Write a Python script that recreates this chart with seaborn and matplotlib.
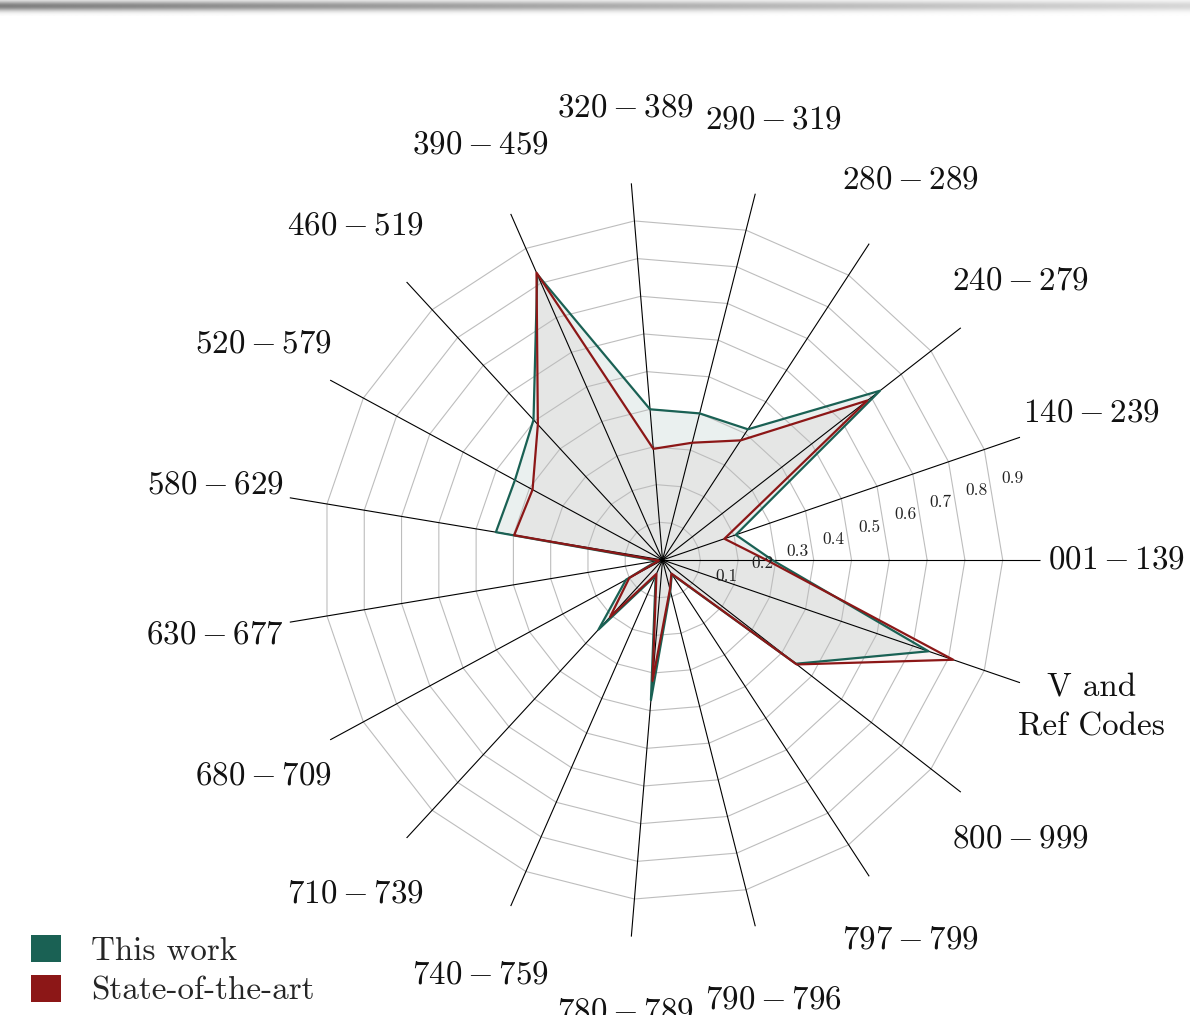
import numpy as np
import pandas as pd
import seaborn as sns
import matplotlib.pyplot as plt
from matplotlib.patches import Patch

# categories, counter-clockwise from the right
categories = ['$001 - 139$', '$140 - 239$', '$240 - 279$', '$280 - 289$',
              '$290 - 319$', '$320 - 389$', '$390 - 459$', '$460 - 519$',
              '$520 - 579$', '$580 - 629$', '$630 - 677$', '$680 - 709$',
              '$710 - 739$', '$740 - 759$', '$780 - 789$', '$790 - 796$',
              '$797 - 799$', '$800 - 999$', 'V and\nRef Codes']
this_work = [0.29, 0.205, 0.729, 0.413, 0.40, 0.40, 0.825, 0.504, 0.444, 0.447,
             0.015, 0.11, 0.25, 0.045, 0.372, 0.084, 0.045, 0.447, 0.744]
state_of_the_art = [0.275, 0.173, 0.687, 0.378, 0.32, 0.295, 0.83, 0.487, 0.391, 0.398,
                    0.01, 0.10, 0.205, 0.04, 0.321, 0.08, 0.043, 0.45, 0.813]
ring_values = [0.1, 0.2, 0.3, 0.4, 0.5, 0.6, 0.7, 0.8, 0.9]

TEAL = '#1a6154'
RED = '#8c1717'

sns.set_theme(style='white')
plt.rcParams['font.family'] = 'cmr10'
plt.rcParams['mathtext.fontset'] = 'cm'
plt.rcParams['axes.formatter.use_mathtext'] = True

n = len(categories)
angles = np.linspace(0, 2 * np.pi, n, endpoint=False)
loop = np.append(angles, 2 * np.pi)
tw_loop = this_work + this_work[:1]
sota_loop = state_of_the_art + state_of_the_art[:1]

df = pd.DataFrame({
    'angle': np.concatenate([loop, loop]),
    'value': tw_loop + sota_loop,
    'series': ['This work'] * (n + 1) + ['State-of-the-art'] * (n + 1),
})

fig = plt.figure(figsize=(11.9, 10.15), dpi=100)

# slide header shadow
hx = fig.add_axes([0, 1 - 16 / 1015, 1, 16 / 1015])
xx = np.linspace(0, 1, 600)
yy = np.arange(16)
shade = (0.5 - 0.34 * xx)[None, :] * np.exp(-((yy[:, None] - 5.5) / 5.0) ** 2)
hx.imshow(1 - shade, cmap='gray', vmin=0, vmax=1, aspect='auto', interpolation='bilinear')
hx.axis('off')

ax = fig.add_axes([0.2391, 0.0759, 0.6353, 0.7448], projection='polar')

ax.fill(loop, sota_loop, color=RED, alpha=0.045, lw=0, zorder=1)
ax.fill(loop, tw_loop, color=TEAL, alpha=0.09, lw=0, zorder=1.05)
for v in ring_values:
    ax.plot(loop, [v] * (n + 1), color='#bdbdbd', lw=0.8, zorder=1.2)

sns.lineplot(data=df, x='angle', y='value', hue='series',
             hue_order=['This work', 'State-of-the-art'],
             palette={'This work': TEAL, 'State-of-the-art': RED},
             sort=False, estimator=None, lw=1.6, legend=False, ax=ax, zorder=3)

ax.set_xlabel('')
ax.set_ylabel('')
ax.set_ylim(0, 1.0)
ax.set_xticks(angles)
ax.set_xticklabels([])
ax.set_yticks(ring_values)
ax.set_yticklabels([])
ax.yaxis.grid(False)
ax.xaxis.grid(True, color='black', lw=0.8)
ax.set_axisbelow('line')
ax.spines['polar'].set_visible(False)

for v in ring_values:
    ax.annotate(f'{v:.1f}', xy=(angles[1], v), xytext=(20.2, -20.4),
                textcoords='offset points', ha='center', va='center',
                fontsize=12.5, color='#222222', zorder=4)

for a, lab in zip(angles, categories):
    ax.text(a, 1.2, lab, ha='center', va='center', fontsize=23.8,
            linespacing=1.45, color='#111111', clip_on=False)

handles = [Patch(facecolor=TEAL, edgecolor='none', label='This work'),
           Patch(facecolor=RED, edgecolor='none', label='State-of-the-art')]
fig.legend(handles=handles, loc='upper left', bbox_to_anchor=(31 / 1190, (1015 - 935) / 1015),
           frameon=False, fontsize=23.8, handlelength=0.9, handleheight=0.9,
           handletextpad=0.93, labelspacing=0.26, borderpad=0, borderaxespad=0)

fig.savefig('out.png', dpi=100)
